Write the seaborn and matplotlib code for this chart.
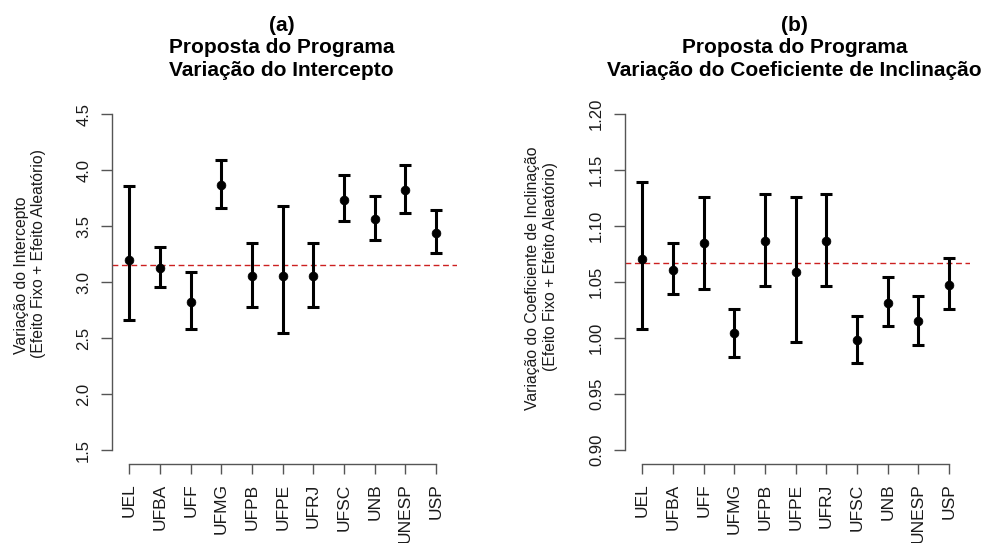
import matplotlib
matplotlib.use("Agg")
import matplotlib.pyplot as plt
import seaborn as sns
import pandas as pd

# Universities (same order in both panels)
universidades = ["UEL", "UFBA", "UFF", "UFMG", "UFPB", "UFPE", "UFRJ",
                 "UFSC", "UNB", "UNESP", "USP"]

# (a) Intercept: estimate and interval bounds
intercepto = [3.196, 3.128, 2.824, 3.863, 3.051, 3.051, 3.051, 3.735, 3.560, 3.824, 3.440]
intercepto_inf = [2.664, 2.955, 2.577, 3.664, 2.780, 2.545, 2.780, 3.545, 3.378, 3.613, 3.262]
intercepto_sup = [3.860, 3.312, 3.092, 4.092, 3.348, 3.682, 3.348, 3.955, 3.771, 4.045, 3.646]
intercepto_fixo = 3.149

# (b) Slope coefficient: estimate and interval bounds
inclinacao = [1.0705, 1.0607, 1.0845, 1.0042, 1.0863, 1.0589, 1.0863, 0.9982, 1.0315, 1.0149, 1.0473]
inclinacao_inf = [1.0077, 1.0390, 1.0435, 0.9827, 1.0467, 0.9967, 1.0467, 0.9774, 1.0104, 0.9937, 1.0262]
inclinacao_sup = [1.1390, 1.0848, 1.1259, 1.0259, 1.1289, 1.1259, 1.1289, 1.0200, 1.0545, 1.0375, 1.0711]
inclinacao_fixo = 1.0667

ticks_a = [1.5, 2.0, 2.5, 3.0, 3.5, 4.0, 4.5]
ticks_b = [0.90, 0.95, 1.00, 1.05, 1.10, 1.15, 1.20]

sns.set_style("ticks")
plt.rcParams["font.family"] = ["Liberation Sans", "DejaVu Sans"]

W, H = 991, 543
fig = plt.figure(figsize=(W / 100, H / 100), dpi=100)


def painel(left_px, valores, inf, sup, fixo, ticks, ylim, fmt, titulo, ylab1, ylab2,
           lab_x1, lab_x2, lab_y1, lab_y2):
    ax = fig.add_axes([left_px / W, (H - 464) / H, 345 / W, (464 - 100.6) / H])
    df = pd.DataFrame({"univ": universidades, "val": valores,
                       "inf": inf, "sup": sup})
    yerr = [df["val"] - df["inf"], df["sup"] - df["val"]]
    ax.errorbar(df["univ"], df["val"], yerr=yerr, fmt="none", ecolor="black",
                elinewidth=2.2, capsize=4, capthick=2.2, zorder=3)
    sns.scatterplot(data=df, x="univ", y="val", ax=ax, color="black", s=40,
                    edgecolor="black", linewidth=0.5, zorder=4, legend=False)
    ax.axhline(fixo, color="#cc2020", lw=1.0, dashes=(4.2, 2.6), zorder=2)

    ax.set_xlim(-0.57, 10.68)
    ax.set_ylim(*ylim)
    ax.set_yticks(ticks)
    ax.set_yticklabels([fmt.format(t) for t in ticks])
    ax.set_xlabel("")
    ax.set_ylabel("")

    for s in ["top", "right"]:
        ax.spines[s].set_visible(False)
    ax.spines["left"].set_bounds(ticks[0], ticks[-1])
    ax.spines["bottom"].set_bounds(0, len(universidades) - 1)
    for s in ["left", "bottom"]:
        ax.spines[s].set_color("#555555")
        ax.spines[s].set_linewidth(1.0)

    ax.tick_params(axis="y", labelrotation=90, length=8, width=1.0, color="#555555",
                   pad=7, labelsize=12, labelcolor="#1a1a1a")
    ax.tick_params(axis="x", labelrotation=90, length=7.5, width=1.0, color="#555555",
                   pad=6.5, labelsize=12.5, labelcolor="#1a1a1a")
    for lab in ax.get_yticklabels():
        lab.set_va("center")
        lab.set_ha("right")

    cx = (left_px + 345 / 2) / W
    fig.text(cx - 0.003, 1 - 16 / H, titulo, ha="center", va="top", fontsize=15,
             fontweight="bold", linespacing=1.22, color="black")
    fig.text(lab_x1 / W, 1 - lab_y1 / H, ylab1, rotation=90, ha="center",
             va="center", fontsize=11.3, color="#1a1a1a")
    fig.text(lab_x2 / W, 1 - lab_y2 / H, ylab2, rotation=90, ha="center",
             va="center", fontsize=11.3, color="#1a1a1a")
    return ax


painel(112, intercepto, intercepto_inf, intercepto_sup, intercepto_fixo,
       ticks_a, (1.375, 4.62), "{:.1f}",
       "(a)\nProposta do Programa\nVariação do Intercepto",
       "Variação do Intercepto", "(Efeito Fixo + Efeito Aleatório)",
       22, 39, 275, 254)

painel(625, inclinacao, inclinacao_inf, inclinacao_sup, inclinacao_fixo,
       ticks_b, (0.8875, 1.212), "{:.2f}",
       "(b)\nProposta do Programa\nVariação do Coeficiente de Inclinação",
       "Variação do Coeficiente de Inclinação", "(Efeito Fixo + Efeito Aleatório)",
       532, 550, 278, 267)

fig.savefig("out.png", dpi=100, facecolor="white")
